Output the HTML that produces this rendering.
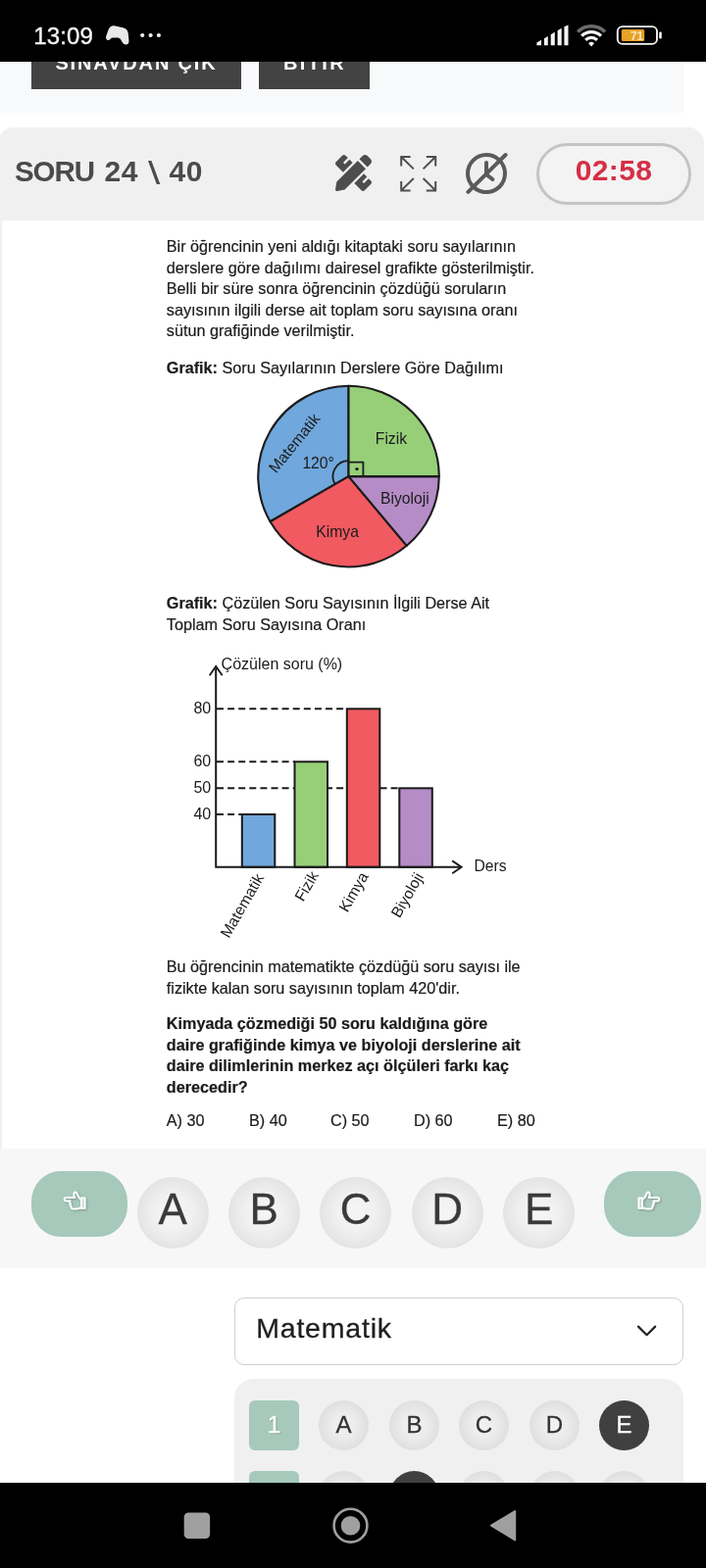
<!DOCTYPE html>
<html lang="tr">
<head>
<meta charset="utf-8">
<title>Soru 24</title>
<style>
*{box-sizing:border-box;margin:0;padding:0}
html,body{width:720px;height:1600px;overflow:hidden;background:#fff}
body{position:relative;font-family:"Liberation Sans",sans-serif;color:#1c1c1c}
.abs{position:absolute}
.t{position:absolute;white-space:nowrap;line-height:1}
/* status bar */
#status{left:0;top:0;width:720px;height:62.5px;background:#000;z-index:10}
#clock{left:34.3px;top:25px;font-size:24px;color:#f2f2f2;letter-spacing:.1px;-webkit-text-stroke:.35px #f2f2f2}
/* top band */
#band{left:0;top:62px;width:697px;height:53px;background:#f8f9fa}
.topbtn{position:absolute;top:30px;height:61px;background:#434343;color:#fff;font-weight:bold;font-size:20px;letter-spacing:1.6px;text-align:center;line-height:1}
.topbtn span{position:absolute;left:0;right:0;top:23.6px}
/* question panel */
#panel{left:-2px;top:130px;width:720px;height:1042px;background:#f0f0f0;border-radius:16px 16px 0 0}
#qbody{left:1.5px;top:225px;width:716.5px;height:947px;background:#fff}
#soru{left:0;top:0;width:330px;height:0;font-size:29.5px;font-weight:bold;color:#4b4b4b;word-spacing:-8px}
#soru span{position:absolute;line-height:1;word-spacing:0}
#soru .s1{left:15px;top:160.2px;letter-spacing:-1.1px}
#soru .s2{left:106.6px;top:160.2px;font-size:30px;letter-spacing:.4px}
#soru .s3{left:150.5px;top:159px;font-size:34px;font-weight:normal;transform:scaleX(1.3);transform-origin:0 0}
#soru .s4{left:172.6px;top:160.2px;font-size:30px;letter-spacing:.4px}
#timer{left:547px;top:146px;width:158px;height:63px;border:3px solid #c4c4c4;border-radius:32px;background:#f3f3f3}
#timer span{position:absolute;left:0;right:0;top:10.2px;text-align:center;font-size:30px;font-weight:bold;color:#d42f45;line-height:1;letter-spacing:.4px}
.q{font-size:16.2px;color:#1b1b1b;left:169.8px;-webkit-text-stroke:.2px #1b1b1b}
.qb{font-weight:bold}
/* answer bar */
#ansbar{left:0;top:1171.5px;width:720px;height:122.5px;background:#f7f7f7}
.pill{position:absolute;top:1194.5px;height:67px;border-radius:30px/31px;background:#a6c9bb}
.big{position:absolute;top:1200.5px;width:73.4px;height:73.4px;border-radius:50%;background:radial-gradient(circle at 50% 50%,#f5f5f5 0%,#f1f1f1 35%,#e6e6e6 65%,#d9d9d9 88%,#d0d0d0 100%);font-size:44px;color:#3a3a3a;text-align:center;line-height:66.4px;-webkit-text-stroke:.3px #3a3a3a}
/* bottom */
#select{left:239px;top:1324px;width:458px;height:69px;border:1.5px solid #cfcfcf;border-radius:10px;background:#fff}
#select span{position:absolute;left:21.2px;top:16.3px;font-size:28.5px;color:#1e1e1e;line-height:1;letter-spacing:.8px;-webkit-text-stroke:.3px #1e1e1e}
#sheet{left:239.3px;top:1407.3px;width:458px;height:200px;border-radius:20px;background:#f0f0f0}
.num{position:absolute;width:51px;height:51px;border-radius:6px;background:#a6c9bb;color:#fff;font-size:24.5px;text-align:center;line-height:50.5px;-webkit-text-stroke:.3px #fff;text-shadow:1px 1px 1.5px rgba(0,0,0,.28)}
.sm{position:absolute;width:51px;height:51px;border-radius:50%;background:radial-gradient(circle at 50% 50%,#f1f1f1 0%,#ececec 35%,#e0e0e0 68%,#d5d5d5 90%,#cecece 100%);font-size:24px;color:#333;text-align:center;line-height:50.5px;-webkit-text-stroke:.3px #333;text-shadow:0 0 2px #fff}
.sm.on{background:#404040;color:#fff;-webkit-text-stroke:.3px #fff;text-shadow:none}
#nav{left:0;top:1513px;width:720px;height:87px;background:#000;z-index:10}
</style>
</head>
<body>
<!-- top band with buttons -->
<div class="abs" id="band"></div>
<div class="topbtn" style="left:32px;width:214px"><span style="letter-spacing:1.85px">SINAVDAN ÇIK</span></div>
<div class="topbtn" style="left:264px;width:113px"><span style="letter-spacing:2.4px;left:1px">BİTİR</span></div>

<!-- status bar -->
<div class="abs" id="status">
  <div class="t" id="clock">13:09</div>
<svg class="abs" style="left:0;top:0" width="720" height="62" viewBox="0 0 720 62">
  <!-- gamepad -->
  <path d="M112.5 27.6Q114 26 116.5 26.3L125.5 28.3Q129.8 29.4 130.6 33.2L131.5 41.5Q131.6 45.4 128.3 45.6Q126 45.5 124.8 43.2L122.6 39.6Q121.8 38.6 120.4 38.4L114.6 38.6Q113.2 38.9 112.2 40.2Q110.6 41.6 109 40.4Q107.6 39.3 108.1 37.2L110.6 30.2Q111.2 28.6 112.5 27.6Z" fill="#e9e9e9"/>
  <circle cx="145.2" cy="36" r="2.1" fill="#f0f0f0"/><circle cx="153.6" cy="36" r="2.1" fill="#f0f0f0"/><circle cx="161.9" cy="36" r="2.1" fill="#f0f0f0"/>
  <!-- signal -->
  <g fill="#f4f4f4">
    <path d="M547.4 46.3V43.6L552 40.8V46.3Z"/>
    <path d="M554.9 46.3V39.2L558.8 36.9V46.3Z"/>
    <path d="M561.7 46.3V35.2L565.8 32.8V46.3Z"/>
    <path d="M568.6 46.3V31.2L572.7 28.8V46.3Z"/>
    <path d="M575.4 46.3V27.2L579.5 25.6V46.3Z"/>
  </g>
  <!-- wifi -->
  <g fill="none" stroke-linecap="butt">
    <path d="M589.2 32.6A19.6 19.6 0 0 1 617 32.6" stroke="#6c6c6c" stroke-width="3.6"/>
    <path d="M593.2 36.7A14 14 0 0 1 613 36.7" stroke="#f4f4f4" stroke-width="3.2"/>
    <path d="M597.2 40.8A8.3 8.3 0 0 1 609 40.8" stroke="#f4f4f4" stroke-width="3.2"/>
  </g>
  <path d="M603.1 47.4L600.2 44.3A4.1 4.1 0 0 1 606 44.3Z" fill="#f4f4f4"/>
  <!-- battery -->
  <rect x="629.8" y="27.1" width="40.2" height="17.8" rx="5" ry="5" fill="none" stroke="#f4f4f4" stroke-width="1.9"/>
  <rect x="672.2" y="32.6" width="2.6" height="6.8" rx="1.2" fill="#f4f4f4"/>
  <rect x="633.8" y="30" width="23.4" height="11.9" rx="1.5" fill="#e9a126"/>
  <text x="649.2" y="40.7" text-anchor="middle" font-family="'Liberation Sans',sans-serif" font-size="12.6" font-weight="bold" letter-spacing="-.6" fill="#f6e6b8">71</text>
</svg>
</div>

<!-- question panel -->
<div class="abs" id="panel"></div>
<div class="abs" id="qbody"></div>
<div class="t" id="soru"><span class="s1">SORU</span> <span class="s2">24</span> <span class="s3">\</span> <span class="s4">40</span></div>
<svg class="abs" style="left:342px;top:158px" width="37" height="37" viewBox="0 0 512 512"><path fill="#4d4d4d" d="M109.46 244.04l134.58-134.56-44.12-44.12-61.68 61.68a7.919 7.919 0 0 1-11.21 0l-11.21-11.21c-3.1-3.1-3.1-8.12 0-11.21l61.68-61.68-33.64-33.65C131.47-3.1 111.39-3.1 99 9.29L9.29 99c-12.38 12.39-12.39 32.47 0 44.86l100.17 100.18zm388.47-116.8c18.76-18.76 18.75-49.17 0-67.93l-45.25-45.25c-18.76-18.76-49.18-18.76-67.95 0l-46 46 113.21 113.2 45.99-46.02zM316.08 82.71l-297 296.96L.32 487.11c-2.53 14.49 10.09 27.11 24.59 24.56l107.45-18.84L429.28 195.9 316.08 82.71zm186.63 285.43l-33.64-33.64-61.68 61.68c-3.1 3.1-8.12 3.1-11.21 0l-11.21-11.21c-3.09-3.1-3.09-8.12 0-11.21l61.68-61.68-44.14-44.14L267.93 402.5l100.21 100.2c12.39 12.39 32.47 12.39 44.86 0l89.71-89.7c12.39-12.39 12.39-32.47 0-44.86z"/></svg>
<svg class="abs" style="left:400px;top:150px" width="54" height="54" viewBox="400 150 54 54" fill="none" stroke="#4d4d4d" stroke-width="2">
  <path d="M418.6 160H409.2V169.4M409.2 160L421.8 172.4"/>
  <path d="M434.8 160H444.2V169.4M444.2 160L431.6 172.4"/>
  <path d="M418.6 194.4H409.2V185M409.2 194.4L421.8 182"/>
  <path d="M434.8 194.4H444.2V185M444.2 194.4L431.6 182"/>
</svg>
<svg class="abs" style="left:468px;top:150px" width="56" height="56" viewBox="468 150 56 56" fill="none" stroke="#5a5a5a" stroke-width="4" stroke-linecap="round">
  <circle cx="496" cy="177.1" r="19"/>
  <path d="M496 166V178L502.4 183"/>
  <path d="M477.4 195.8L515.6 158"/>
</svg>
<div class="abs" id="timer"><span>02:58</span></div>

<div class="t q" style="top:243.2px">Bir öğrencinin yeni aldığı kitaptaki soru sayılarının</div>
<div class="t q" style="top:264.75px">derslere göre dağılımı dairesel grafikte gösterilmiştir.</div>
<div class="t q" style="top:286.3px">Belli bir süre sonra öğrencinin çözdüğü soruların</div>
<div class="t q" style="top:307.85px">sayısının ilgili derse ait toplam soru sayısına oranı</div>
<div class="t q" style="top:329.4px">sütun grafiğinde verilmiştir.</div>
<div class="t q" style="top:366.7px"><b>Grafik:</b> Soru Sayılarının Derslere Göre Dağılımı</div>

<div class="t q" style="top:607.1px"><b>Grafik:</b> Çözülen Soru Sayısının İlgili Derse Ait</div>
<div class="t q" style="top:628.8px">Toplam Soru Sayısına Oranı</div>

<div class="t q" style="top:977.9px">Bu öğrencinin matematikte çözdüğü soru sayısı ile</div>
<div class="t q" style="top:999.5px">fizikte kalan soru sayısının toplam 420'dir.</div>
<div class="t q qb" style="top:1036.2px">Kimyada çözmediği 50 soru kaldığına göre</div>
<div class="t q qb" style="top:1058px">daire grafiğinde kimya ve biyoloji derslerine ait</div>
<div class="t q qb" style="top:1079px">daire dilimlerinin merkez açı ölçüleri farkı kaç</div>
<div class="t q qb" style="top:1101px">derecedir?</div>
<div class="t q" style="top:1135px">A) 30</div>
<div class="t q" style="top:1135px;left:254px">B) 40</div>
<div class="t q" style="top:1135px;left:337px">C) 50</div>
<div class="t q" style="top:1135px;left:422px">D) 60</div>
<div class="t q" style="top:1135px;left:507px">E) 80</div>

<!-- charts -->
<svg class="abs" style="left:0;top:0;-webkit-text-stroke:.2px #1b1b1b" width="720" height="1600" viewBox="0 0 720 1600" font-family="'Liberation Sans',sans-serif" font-size="15.7" fill="#1b1b1b">
<g stroke="#1b1b1b" stroke-width="2.1" stroke-linejoin="round">
<path d="M355.5 486.1L355.50 393.80A92.3 92.3 0 0 0 275.57 532.25Z" fill="#70a7dc"/>
<path d="M355.5 486.1L275.57 532.25A92.3 92.3 0 0 0 414.83 556.81Z" fill="#f05a60"/>
<path d="M355.5 486.1L414.83 556.81A92.3 92.3 0 0 0 447.80 486.10Z" fill="#b58cc6"/>
<path d="M355.5 486.1L447.80 486.10A92.3 92.3 0 0 0 355.50 393.80Z" fill="#97cf79"/>
<path d="M355.50 470.10A16 16 0 0 0 341.64 494.10" fill="none" stroke-width="1.8"/>
<path d="M355.5 471.6H370.4V486.1" fill="none" stroke-width="1.8"/>
</g>
<circle cx="364" cy="478.6" r="1.7"/>
<text transform="translate(382.8,452.5)">Fizik</text>
<text transform="translate(388,513.6)">Biyoloji</text>
<text transform="translate(322.3,548.3)">Kimya</text>
<text transform="translate(308.4,477.5)">120°</text>
<text transform="translate(281.6,483.6) rotate(-51)">Matematik</text>
<g stroke="#1b1b1b" stroke-width="2" fill="none">
<g stroke-dasharray="7 4.1">
<path d="M221 723.3H353.8"/>
<path d="M221 777.3H300.5"/>
<path d="M221 804.3H407.3"/>
<path d="M221 831H246.8"/>
</g>
<rect x="246.8" y="831" width="33.5" height="53.8" fill="#70a7dc"/>
<rect x="300.5" y="777.3" width="33.5" height="107.5" fill="#97cf79"/>
<rect x="353.8" y="723.3" width="33.5" height="161.5" fill="#f05a60"/>
<rect x="407.3" y="804.3" width="33.5" height="80.5" fill="#b58cc6"/>
<path d="M220.2 682V884.8H470"/>
<path d="M213.7 689.2L220.2 680L226.7 689.2" stroke-width="1.9" stroke-linejoin="miter"/>
<path d="M461.2 878.4L470.6 884.8L461.2 891.2" stroke-width="1.9" stroke-linejoin="miter"/>
</g>
<text transform="translate(225.6,682.8)" font-size="16">Çözülen soru (%)</text>
<text transform="translate(215.2,727.8)" text-anchor="end" font-size="16">80</text>
<text transform="translate(215.2,781.8)" text-anchor="end" font-size="16">60</text>
<text transform="translate(215.2,808.8)" text-anchor="end" font-size="16">50</text>
<text transform="translate(215.2,835.5)" text-anchor="end" font-size="16">40</text>
<text transform="translate(483.4,889.4)">Ders</text>
<text transform="translate(233.5,958) rotate(-60)">Matematik</text>
<text transform="translate(309.3,920.8) rotate(-60)">Fizik</text>
<text transform="translate(354.3,931.7) rotate(-60)">Kimya</text>
<text transform="translate(407.6,937.5) rotate(-60)">Biyoloji</text>
</svg>
<!-- /charts -->

<!-- answer bar -->
<div class="abs" id="ansbar"></div>
<div class="pill" style="left:31.5px;width:98.5px"></div>
<svg class="abs" style="left:63.4px;top:1214.3px;filter:drop-shadow(1px 1px 1px rgba(0,0,0,.25))" width="26" height="23" viewBox="0 0 26 23" fill="none" stroke="#fff" stroke-width="2" stroke-linejoin="round" stroke-linecap="round"><g transform="translate(26,0) scale(-1,1)"><path d="M2.4 8.6H6V19H2.4Z" fill="#fff" fill-opacity=".55"/><path d="M6.3 9.8C8.6 8.6 9.8 6.4 10.6 3.6C11 2 13.2 2 13.6 3.8C13.9 5.2 13.4 6.8 12.8 8H21.6C23.8 8 23.8 11.4 21.6 11.4H17.4C18.6 12 18.4 14 17 14.2C17.8 15 17.4 16.7 16.2 16.9C16.8 17.9 16.2 19.4 14.8 19.4H10.4C8.8 19.4 7.6 19 6.3 18.2"/></g></svg>
<div class="big" style="left:139.5px">A</div>
<div class="big" style="left:232.5px">B</div>
<div class="big" style="left:326px">C</div>
<div class="big" style="left:419.5px">D</div>
<div class="big" style="left:513px">E</div>
<div class="pill" style="left:616px;width:99px"></div>
<svg class="abs" style="left:648.6px;top:1214.3px;filter:drop-shadow(1px 1px 1px rgba(0,0,0,.25))" width="26" height="23" viewBox="0 0 26 23" fill="none" stroke="#fff" stroke-width="2" stroke-linejoin="round" stroke-linecap="round"><g transform=""><path d="M2.4 8.6H6V19H2.4Z" fill="#fff" fill-opacity=".55"/><path d="M6.3 9.8C8.6 8.6 9.8 6.4 10.6 3.6C11 2 13.2 2 13.6 3.8C13.9 5.2 13.4 6.8 12.8 8H21.6C23.8 8 23.8 11.4 21.6 11.4H17.4C18.6 12 18.4 14 17 14.2C17.8 15 17.4 16.7 16.2 16.9C16.8 17.9 16.2 19.4 14.8 19.4H10.4C8.8 19.4 7.6 19 6.3 18.2"/></g></svg>

<!-- bottom sheet -->
<div class="abs" id="select"><span>Matematik</span></div>
<svg class="abs" style="left:646px;top:1348px" width="28" height="20" viewBox="646 1348 28 20" fill="none" stroke="#222" stroke-width="2.2" stroke-linecap="round" stroke-linejoin="round"><path d="M651 1353.6L659.6 1362.2L668.2 1353.6"/></svg>
<div class="abs" id="sheet"></div>
<div class="num" style="left:254px;top:1429.3px">1</div>
<div class="sm" style="left:325px;top:1429.3px">A</div>
<div class="sm" style="left:397px;top:1429.3px">B</div>
<div class="sm" style="left:468px;top:1429.3px">C</div>
<div class="sm" style="left:540px;top:1429.3px">D</div>
<div class="sm on" style="left:611px;top:1429.3px">E</div>
<div class="num" style="left:254px;top:1500.7px">2</div>
<div class="sm" style="left:325px;top:1500.7px">A</div>
<div class="sm on" style="left:397px;top:1500.7px">B</div>
<div class="sm" style="left:468px;top:1500.7px">C</div>
<div class="sm" style="left:540px;top:1500.7px">D</div>
<div class="sm" style="left:611px;top:1500.7px">E</div>

<!-- android nav -->
<div class="abs" id="nav">
<svg class="abs" style="left:0;top:0" width="720" height="87" viewBox="0 1513 720 87">
  <rect x="187.7" y="1543.4" width="26.4" height="26.6" rx="4.5" fill="#9f9f9f"/>
  <circle cx="357.5" cy="1556.7" r="16.9" fill="none" stroke="#9f9f9f" stroke-width="2.6"/>
  <circle cx="357.5" cy="1556.7" r="9.8" fill="#9f9f9f"/>
  <path d="M501 1556.7L525.2 1542V1571.4Z" fill="#9f9f9f" stroke="#9f9f9f" stroke-width="2" stroke-linejoin="round"/>
</svg>
</div>
</body>
</html>
